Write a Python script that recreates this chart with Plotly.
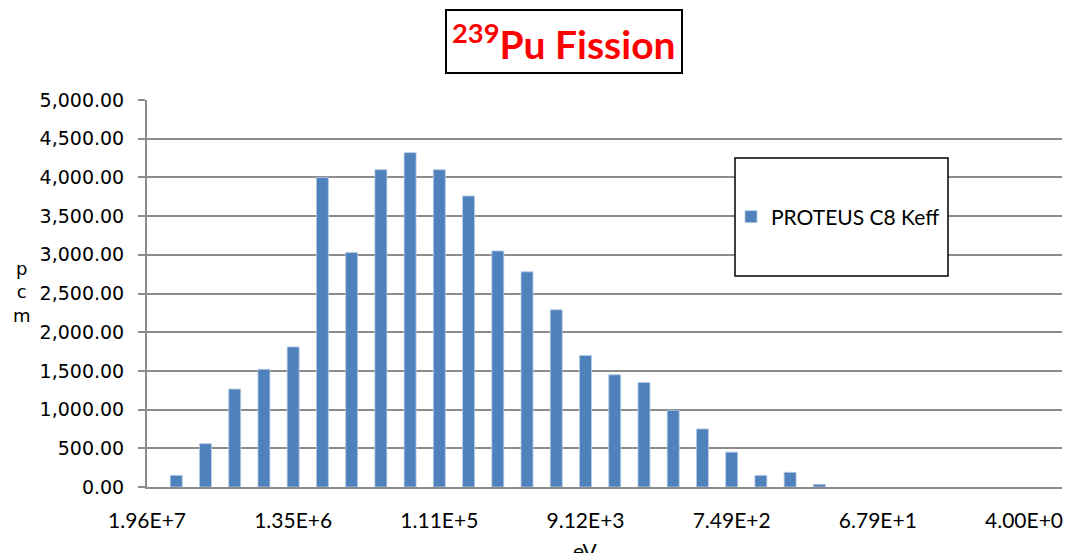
import plotly.graph_objects as go

# Energy group boundary labels shown on the x axis (every 5th group)
tick_labels = ["1.96E+7", "1.35E+6", "1.11E+5", "9.12E+3", "7.49E+2", "6.79E+1", "4.00E+0"]
tick_groups = [0, 5, 10, 15, 20, 25, 30]

# Energy group numbers with bars, and sensitivity values (pcm)
groups = [1, 2, 3, 4, 5, 6, 7, 8, 9, 10, 11, 12, 13, 14, 15, 16, 17, 18, 19, 20, 21, 22, 23]
pcm_values = [150, 560, 1265, 1520, 1810, 4000, 3030, 4100, 4320, 4100, 3760, 3050,
              2780, 2290, 1700, 1450, 1350, 990, 750, 450, 150, 190, 35]

series_name = "PROTEUS C8 Keff"

BLUE = "#4F81BD"
GRID = "#8C8C8C"

# page body has an 8px margin; compensate so the plot lands where the reference is
OFF = 8

fig = go.Figure()
fig.add_trace(go.Bar(
    x=groups, y=pcm_values, name=series_name,
    width=0.41,
    marker=dict(color=BLUE, line=dict(color="#B9CDE5", width=0.8)),
    showlegend=True,
))

fig.update_layout(
    width=1074 - OFF, height=553 - OFF,
    paper_bgcolor="white", plot_bgcolor="white",
    margin=dict(l=147 - OFF, r=12, t=100 - OFF, b=66),
    font=dict(family="DejaVu Sans", color="black"),
    showlegend=True,
    legend=dict(
        x=(731 - 147) / 915, y=(487 - 217) / 387, xanchor="left", yanchor="middle",
        bgcolor="rgba(0,0,0,0)", borderwidth=0,
        font=dict(family="Lato", size=21, color="black"),
        itemwidth=30,
    ),
    xaxis=dict(
        range=[0, 31.3],
        tickmode="array", tickvals=tick_groups, ticktext=tick_labels,
        tickfont=dict(family="Lato", size=21, color="black"),
        showgrid=False, zeroline=False,
        showline=True, linecolor=GRID, linewidth=2,
        ticks="", ticklabelstandoff=14,
    ),
    yaxis=dict(
        range=[0, 5000], dtick=500, tickformat=",.2f",
        tickfont=dict(family="DejaVu Sans", size=19, color="black"),
        showgrid=True, gridcolor=GRID, gridwidth=2,
        zeroline=False,
        showline=True, linecolor=GRID, linewidth=2,
        ticks="outside", ticklen=7, tickcolor=GRID, tickwidth=2,
        ticklabelstandoff=10,
    ),
    shapes=[
        dict(type="rect", xref="paper", yref="paper",
             x0=(735 - 147) / 915, x1=(948 - 147) / 915,
             y0=(487 - 276) / 387, y1=(487 - 158) / 387,
             line=dict(color="black", width=1.5), fillcolor="white", layer="above"),
    ],
    annotations=[
        dict(text="<b><sup>239</sup>Pu Fission</b>", xref="paper", yref="paper",
             x=(564 - 147) / 915, y=(487 - 41) / 387, xanchor="center", yanchor="middle",
             showarrow=False, font=dict(family="Lato", size=39, color="#FF0000"),
             bordercolor="black", borderwidth=2, borderpad=5, bgcolor="white"),
        dict(text="p<br>c<br>m", xref="paper", yref="paper",
             x=(22 - 147) / 915, y=(487 - 292) / 387, xanchor="center", yanchor="middle",
             showarrow=False, font=dict(family="DejaVu Sans", size=18, color="black")),
        dict(text="eV", xref="paper", yref="paper",
             x=(585 - 147) / 915, y=(487 - 536) / 387, xanchor="center", yanchor="top",
             showarrow=False, font=dict(family="Lato", size=21, color="black")),
    ],
)

fig.write_html("out.html")
